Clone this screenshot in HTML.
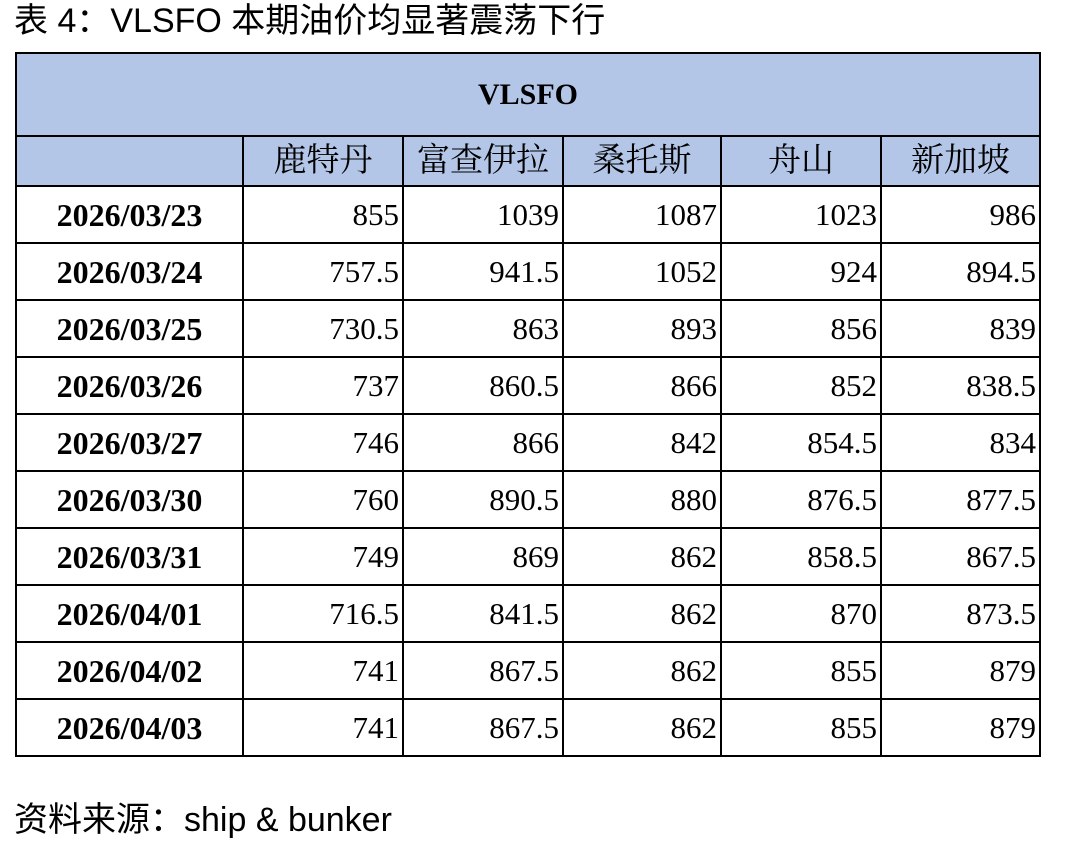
<!DOCTYPE html>
<html><head><meta charset="utf-8"><style>
body{margin:0;width:1070px;height:844px;background:#fff;position:relative;overflow:hidden}
.t{position:absolute;font-family:"Liberation Sans","Noto Sans CJK SC",sans-serif;font-size:34px;line-height:40px;color:#000;white-space:nowrap}
table{position:absolute;left:15px;top:52px;border-collapse:collapse;font-family:"Liberation Serif","Noto Serif CJK SC",serif;color:#000}
td{border:2px solid #000;padding:0 3px;font-size:31px;line-height:1;height:55px;text-align:right}
tr.h td{background:#B4C6E7;text-align:center}
td.d{font-weight:bold;text-align:center;font-size:32px}
tr.h2 td{height:48px;font-size:33px;line-height:1;padding-top:0;padding-bottom:0}
</style></head><body>
<div class="t" style="left:14px;top:1px">表 4：VLSFO 本期油价均显著震荡下行</div>
<table>
<colgroup><col style="width:227px"><col style="width:160px"><col style="width:160px"><col style="width:158px"><col style="width:160px"><col style="width:159px"></colgroup>
<tr class="h"><td colspan="6" style="height:81px;font-weight:bold;font-size:30px">VLSFO</td></tr>
<tr class="h h2"><td></td><td>鹿特丹</td><td>富查伊拉</td><td>桑托斯</td><td>舟山</td><td>新加坡</td></tr>
<tr><td class="d">2026/03/23</td><td>855</td><td>1039</td><td>1087</td><td>1023</td><td>986</td></tr>
<tr><td class="d">2026/03/24</td><td>757.5</td><td>941.5</td><td>1052</td><td>924</td><td>894.5</td></tr>
<tr><td class="d">2026/03/25</td><td>730.5</td><td>863</td><td>893</td><td>856</td><td>839</td></tr>
<tr><td class="d">2026/03/26</td><td>737</td><td>860.5</td><td>866</td><td>852</td><td>838.5</td></tr>
<tr><td class="d">2026/03/27</td><td>746</td><td>866</td><td>842</td><td>854.5</td><td>834</td></tr>
<tr><td class="d">2026/03/30</td><td>760</td><td>890.5</td><td>880</td><td>876.5</td><td>877.5</td></tr>
<tr><td class="d">2026/03/31</td><td>749</td><td>869</td><td>862</td><td>858.5</td><td>867.5</td></tr>
<tr><td class="d">2026/04/01</td><td>716.5</td><td>841.5</td><td>862</td><td>870</td><td>873.5</td></tr>
<tr><td class="d">2026/04/02</td><td>741</td><td>867.5</td><td>862</td><td>855</td><td>879</td></tr>
<tr><td class="d">2026/04/03</td><td>741</td><td>867.5</td><td>862</td><td>855</td><td>879</td></tr>
</table>
<div class="t" style="left:14px;top:800px">资料来源：ship &amp; bunker</div>
</body></html>
